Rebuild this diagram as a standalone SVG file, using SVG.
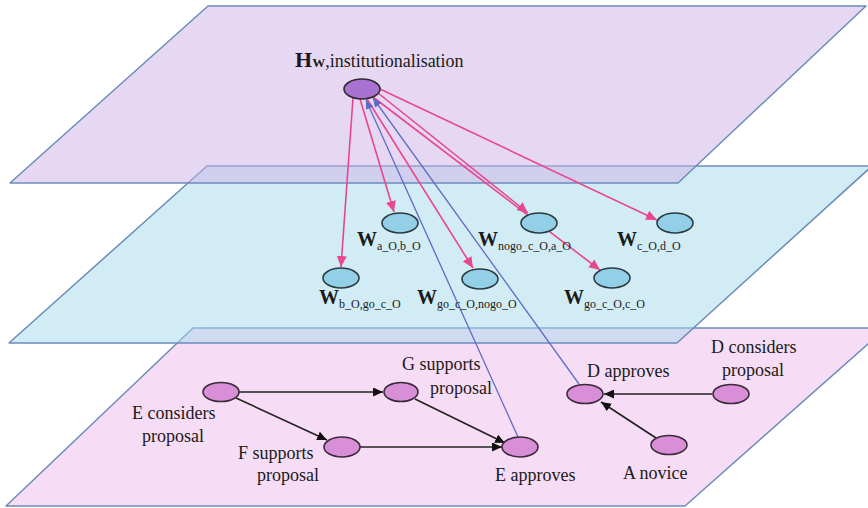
<svg xmlns="http://www.w3.org/2000/svg" width="868" height="508" viewBox="0 0 868 508">
<style>
.plane{stroke:#6b8cba;stroke-width:1.5;stroke-linejoin:round}
.nh{fill:#a872d0;stroke:#2a2a2a;stroke-width:1.6}
.nm{fill:#93d0e8;stroke:#2a3a40;stroke-width:1.6}
.nb{fill:#d98fd7;stroke:#3a2a3a;stroke-width:1.6}
.pink{stroke:#e8478f;stroke-width:1.6;fill:none;marker-end:url(#ap)}
.blue{stroke:#5e6cc4;stroke-width:1.3;fill:none;marker-end:url(#ab)}
.blk{stroke:#222;stroke-width:1.6;fill:none;marker-end:url(#ak)}
text{font-family:"Liberation Serif","Times New Roman",serif;fill:#1a1a1a}
.lb{font-size:18px}
.wb{font-size:20px;font-weight:bold}
.sub{font-size:12px}
</style>
<defs>
<marker id="ap" markerUnits="userSpaceOnUse" markerWidth="12" markerHeight="10" refX="11" refY="5" orient="auto"><path d="M0,0 L11,5 L0,10 z" fill="#e8478f"/></marker>
<marker id="ab" markerUnits="userSpaceOnUse" markerWidth="10" markerHeight="8" refX="9" refY="4" orient="auto"><path d="M0,0 L9,4 L0,8 z" fill="#5e6cc4"/></marker>
<marker id="ak" markerUnits="userSpaceOnUse" markerWidth="11" markerHeight="9" refX="10" refY="4.5" orient="auto"><path d="M0,0 L10,4.5 L0,9 z" fill="#111"/></marker>
</defs>
<g id="planes">
<polygon class="plane" points="193,328 886,328 685,506 6,506" fill="#edb9e9" fill-opacity="0.5"/>
<polygon class="plane" points="207,166 872,166 677,343 9,343" fill="#a5d9eb" fill-opacity="0.5"/>
<polygon class="plane" points="208,6 866,6 678,183 10,183" fill="#cdb1e5" fill-opacity="0.5"/>
</g>
<g id="connectors">
<line class="pink" x1="353" y1="98" x2="341" y2="267"/>
<line class="pink" x1="360" y1="99" x2="394" y2="212"/>
<line class="pink" x1="367" y1="99" x2="473" y2="268"/>
<line class="pink" x1="373" y1="97" x2="600" y2="270"/>
<line class="pink" x1="378" y1="93" x2="528" y2="213"/>
<line class="pink" x1="380" y1="89" x2="657" y2="220"/>
<line class="blue" x1="518" y1="437" x2="366" y2="100"/>
<line class="blue" x1="579" y1="384" x2="373" y2="98"/>
<line class="blk" x1="239" y1="392" x2="383" y2="392"/>
<line class="blk" x1="236" y1="398" x2="327" y2="440"/>
<line class="blk" x1="415" y1="399" x2="505" y2="443"/>
<line class="blk" x1="360" y1="447" x2="502" y2="447"/>
<line class="blk" x1="712" y1="394" x2="604" y2="394"/>
<line class="blk" x1="656" y1="438" x2="601" y2="402"/>
</g>
<g id="H">
<ellipse class="nh" cx="362" cy="89" rx="18" ry="10"/>
<text x="295" y="67"><tspan font-size="22" font-weight="bold">H</tspan><tspan font-size="13" font-weight="bold">W</tspan><tspan font-size="18">,institutionalisation</tspan></text>
</g>
<g id="W_a_O_b_O">
<ellipse class="nm" cx="400" cy="223" rx="18" ry="10"/>
<text x="357" y="246"><tspan class="wb">W</tspan><tspan class="sub" dy="4">a_O,b_O</tspan></text>
</g>
<g id="W_nogo_c_O_a_O">
<ellipse class="nm" cx="539" cy="223" rx="18" ry="10"/>
<text x="478" y="246"><tspan class="wb">W</tspan><tspan class="sub" dy="4">nogo_c_O,a_O</tspan></text>
</g>
<g id="W_c_O_d_O">
<ellipse class="nm" cx="675" cy="223" rx="18" ry="10"/>
<text x="617" y="246"><tspan class="wb">W</tspan><tspan class="sub" dy="4">c_O,d_O</tspan></text>
</g>
<g id="W_b_O_go_c_O">
<ellipse class="nm" cx="341" cy="278" rx="18" ry="10"/>
<text x="319" y="304"><tspan class="wb">W</tspan><tspan class="sub" dy="4">b_O,go_c_O</tspan></text>
</g>
<g id="W_go_c_O_nogo_O">
<ellipse class="nm" cx="480" cy="279" rx="18" ry="10"/>
<text x="417" y="304"><tspan class="wb">W</tspan><tspan class="sub" dy="4">go_c_O,nogo_O</tspan></text>
</g>
<g id="W_go_c_O_c_O">
<ellipse class="nm" cx="612" cy="278" rx="18" ry="10"/>
<text x="564" y="304"><tspan class="wb">W</tspan><tspan class="sub" dy="4">go_c_O,c_O</tspan></text>
</g>
<g id="E_considers">
<ellipse class="nb" cx="221" cy="392" rx="18" ry="9.5"/>
<text class="lb" x="132" y="419">E considers</text>
<text class="lb" x="142" y="442">proposal</text>
</g>
<g id="G_supports">
<ellipse class="nb" cx="401" cy="392" rx="17" ry="9.5"/>
<text class="lb" x="402" y="370">G supports</text>
<text class="lb" x="430" y="394">proposal</text>
</g>
<g id="F_supports">
<ellipse class="nb" cx="342" cy="447" rx="18" ry="10"/>
<text class="lb" x="238" y="459">F supports</text>
<text class="lb" x="257" y="481">proposal</text>
</g>
<g id="E_approves">
<ellipse class="nb" cx="520" cy="447" rx="18" ry="10"/>
<text class="lb" x="495" y="481">E approves</text>
</g>
<g id="D_approves">
<ellipse class="nb" cx="585" cy="394" rx="18" ry="9.5"/>
<text class="lb" x="587" y="377">D approves</text>
</g>
<g id="D_considers">
<ellipse class="nb" cx="731" cy="394" rx="18" ry="9.5"/>
<text class="lb" x="711" y="353">D considers</text>
<text class="lb" x="722" y="376">proposal</text>
</g>
<g id="A_novice">
<ellipse class="nb" cx="669" cy="445" rx="18" ry="9.5"/>
<text class="lb" x="623" y="479">A novice</text>
</g>
</svg>
